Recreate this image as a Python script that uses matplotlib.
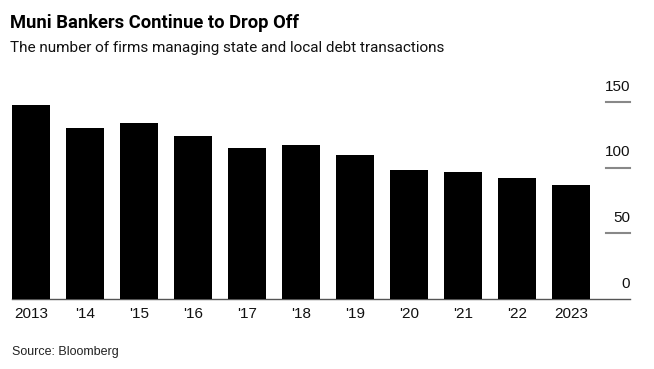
import matplotlib
matplotlib.use("Agg")
import matplotlib.pyplot as plt

years = ["2013", "'14", "'15", "'16", "'17", "'18", "'19", "'20", "'21", "'22", "2023"]
firms = [148, 130, 134, 124, 115, 117, 110, 98, 97, 92, 87]
yticks = [0, 50, 100, 150]

plt.rcParams['font.family'] = ['Liberation Sans', 'DejaVu Sans']
head_font = ['Roboto', 'Liberation Sans']

W, H = 654, 369
fig = plt.figure(figsize=(W / 100, H / 100), dpi=100)
left, right = 12 / W, 630 / W
bottom, top = (H - 299) / H, (H - 102) / H
ax = fig.add_axes([left, bottom, right - left, top - bottom])

x = list(range(len(years)))
ax.bar(x, firms, width=0.70, color="black", zorder=3)
ax.set_xlim(-0.352, 11.09)
ax.set_ylim(0, 150)

for s in ["top", "right", "left"]:
    ax.spines[s].set_visible(False)
ax.spines["bottom"].set_color("#555555")
ax.spines["bottom"].set_linewidth(1.0)
ax.set_yticks([])
ax.set_xticks(x)
ax.set_xticklabels(years, fontsize=11, color="#111111")
ax.tick_params(axis="x", length=0, pad=6)

for v in yticks:
    if v > 0:
        ax.plot([10.64, 11.09], [v, v], color="#888888", lw=1.5, clip_on=False, zorder=2)
    ax.annotate(str(v), xy=(11.09, v), xytext=(0, 6), textcoords="offset points",
                ha="right", va="bottom", fontsize=11, color="#111111", annotation_clip=False)

fig.text(10 / W, 1 - 28 / H, "Muni Bankers Continue to Drop Off", fontsize=13.2,
         fontweight="bold", color="black", ha="left", va="baseline", family=head_font)
fig.text(10 / W, 1 - 52 / H, "The number of firms managing state and local debt transactions",
         fontsize=11, color="#111111", ha="left", va="baseline", family=head_font)
fig.text(12 / W, 1 - 355 / H, "Source: Bloomberg", fontsize=9, color="#222222",
         ha="left", va="baseline")

fig.savefig("out.png", dpi=100)
